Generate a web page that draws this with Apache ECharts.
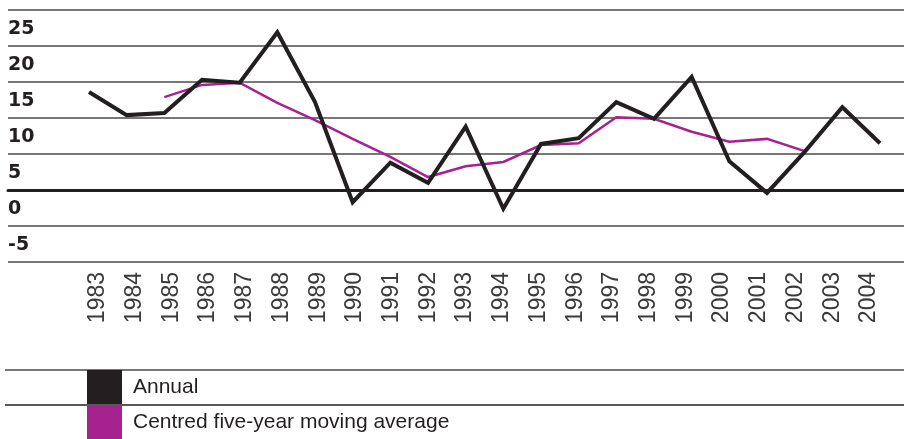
<!DOCTYPE html>
<html>
<head>
<meta charset="utf-8">
<script src="https://cdn.jsdelivr.net/npm/echarts@6/dist/echarts.min.js"></script>
<style>
  html, body { margin: 0; padding: 0; background: #fff; }
  #chart { width: 904px; height: 439px; }
</style>
</head>
<body>
<div id="chart"></div>
<script>
  // years on the x axis
  var years = ['1983', '1984', '1985', '1986', '1987', '1988', '1989', '1990', '1991', '1992', '1993',
    '1994', '1995', '1996', '1997', '1998', '1999', '2000', '2001', '2002', '2003', '2004']
  // annual change
  var annual = [13.6, 10.4, 10.7, 15.3, 14.9, 21.9, 12.2, -1.7, 3.8, 1.0, 8.8,
    -2.6, 6.4, 7.2, 12.2, 9.9, 15.7, 4.0, -0.4, 5.3, 11.5, 6.5]
  // centred five-year moving average (no value for the first and last two years)
  var movingAvg = [null, null, 12.9, 14.6, 14.9, 12.1, 9.7, 7.1, 4.6, 1.8, 3.3,
    3.9, 6.25, 6.5, 10.1, 9.9, 8.1, 6.7, 7.1, 5.4, null, null]
  // y axis ticks
  var yMin = -10
  var yMax = 25
  var yStep = 5

  var ink = '#231F20'
  var magenta = '#A6228F'
  var gridGrey = '#4a4a4a'

  var chart = echarts.init(document.getElementById('chart'))
  chart.setOption({
    animation: false,
    grid: [
      // full width grid: gridlines, zero line and y labels
      { left: 8, right: 0, top: 10, height: 252 },
      // data grid
      { left: 89, right: 24, top: 10, height: 252 },
      // year labels
      { left: 98, right: 35, top: 10, height: 252 }
    ],
    xAxis: [
      {
        gridIndex: 0, type: 'value', min: 0, max: 1,
        axisLine: { show: true, onZero: true, lineStyle: { color: ink, width: 3 } },
        axisTick: { show: false }, axisLabel: { show: false }, splitLine: { show: false }
      },
      {
        gridIndex: 1, type: 'category', data: years, boundaryGap: false,
        axisLine: { show: false }, axisTick: { show: false }, axisLabel: { show: false }
      },
      {
        gridIndex: 2, type: 'category', data: years, boundaryGap: false, position: 'bottom',
        axisLine: { show: false }, axisTick: { show: false },
        axisLabel: {
          rotate: 90, margin: 10, interval: 0,
          fontFamily: 'Liberation Sans, Arial, sans-serif', fontSize: 23, color: '#3a3a3a'
        }
      }
    ],
    yAxis: [
      {
        gridIndex: 0, type: 'value', min: yMin, max: yMax, interval: yStep,
        axisLine: { show: false }, axisTick: { show: false },
        splitLine: { show: true, lineStyle: { color: gridGrey, width: 1.5 } },
        axisLabel: {
          inside: true, margin: 0, align: 'left', verticalAlign: 'top',
          lineHeight: 19, padding: [10, 0, 0, 0],
          showMinLabel: true, showMaxLabel: true,
          fontFamily: 'DejaVu Sans, sans-serif', fontWeight: 'bold', fontSize: 19, color: ink,
          formatter: function (v) { return v === yMin ? '' : String(v) }
        }
      },
      { gridIndex: 1, type: 'value', min: yMin, max: yMax, interval: yStep, show: false },
      { gridIndex: 2, type: 'value', min: yMin, max: yMax, interval: yStep, show: false }
    ],
    legend: {
      data: ['Annual', 'Centred five-year moving average'],
      orient: 'vertical',
      left: 87,
      top: 370,
      padding: 0,
      itemWidth: 35,
      itemHeight: 34,
      itemGap: 1,
      icon: 'rect',
      selectedMode: false,
      textStyle: {
        fontFamily: 'Liberation Sans, Arial, sans-serif',
        fontSize: 21,
        color: ink,
        padding: [0, 0, 6, 6]
      }
    },
    graphic: [
      { type: 'line', shape: { x1: 5, y1: 370, x2: 904, y2: 370 }, style: { stroke: gridGrey, lineWidth: 1.5 } },
      { type: 'line', shape: { x1: 5, y1: 405, x2: 904, y2: 405 }, style: { stroke: ink, lineWidth: 1.5 } }
    ],
    series: [
      {
        name: 'Centred five-year moving average',
        type: 'line',
        xAxisIndex: 1, yAxisIndex: 1,
        data: movingAvg,
        showSymbol: false,
        symbol: 'none',
        itemStyle: { color: magenta },
        lineStyle: { color: magenta, width: 2.5, join: 'miter' }
      },
      {
        name: 'Annual',
        type: 'line',
        xAxisIndex: 1, yAxisIndex: 1,
        data: annual,
        showSymbol: false,
        symbol: 'none',
        itemStyle: { color: ink },
        lineStyle: { color: ink, width: 4, join: 'miter', cap: 'butt' }
      }
    ]
  })
</script>
</body>
</html>
